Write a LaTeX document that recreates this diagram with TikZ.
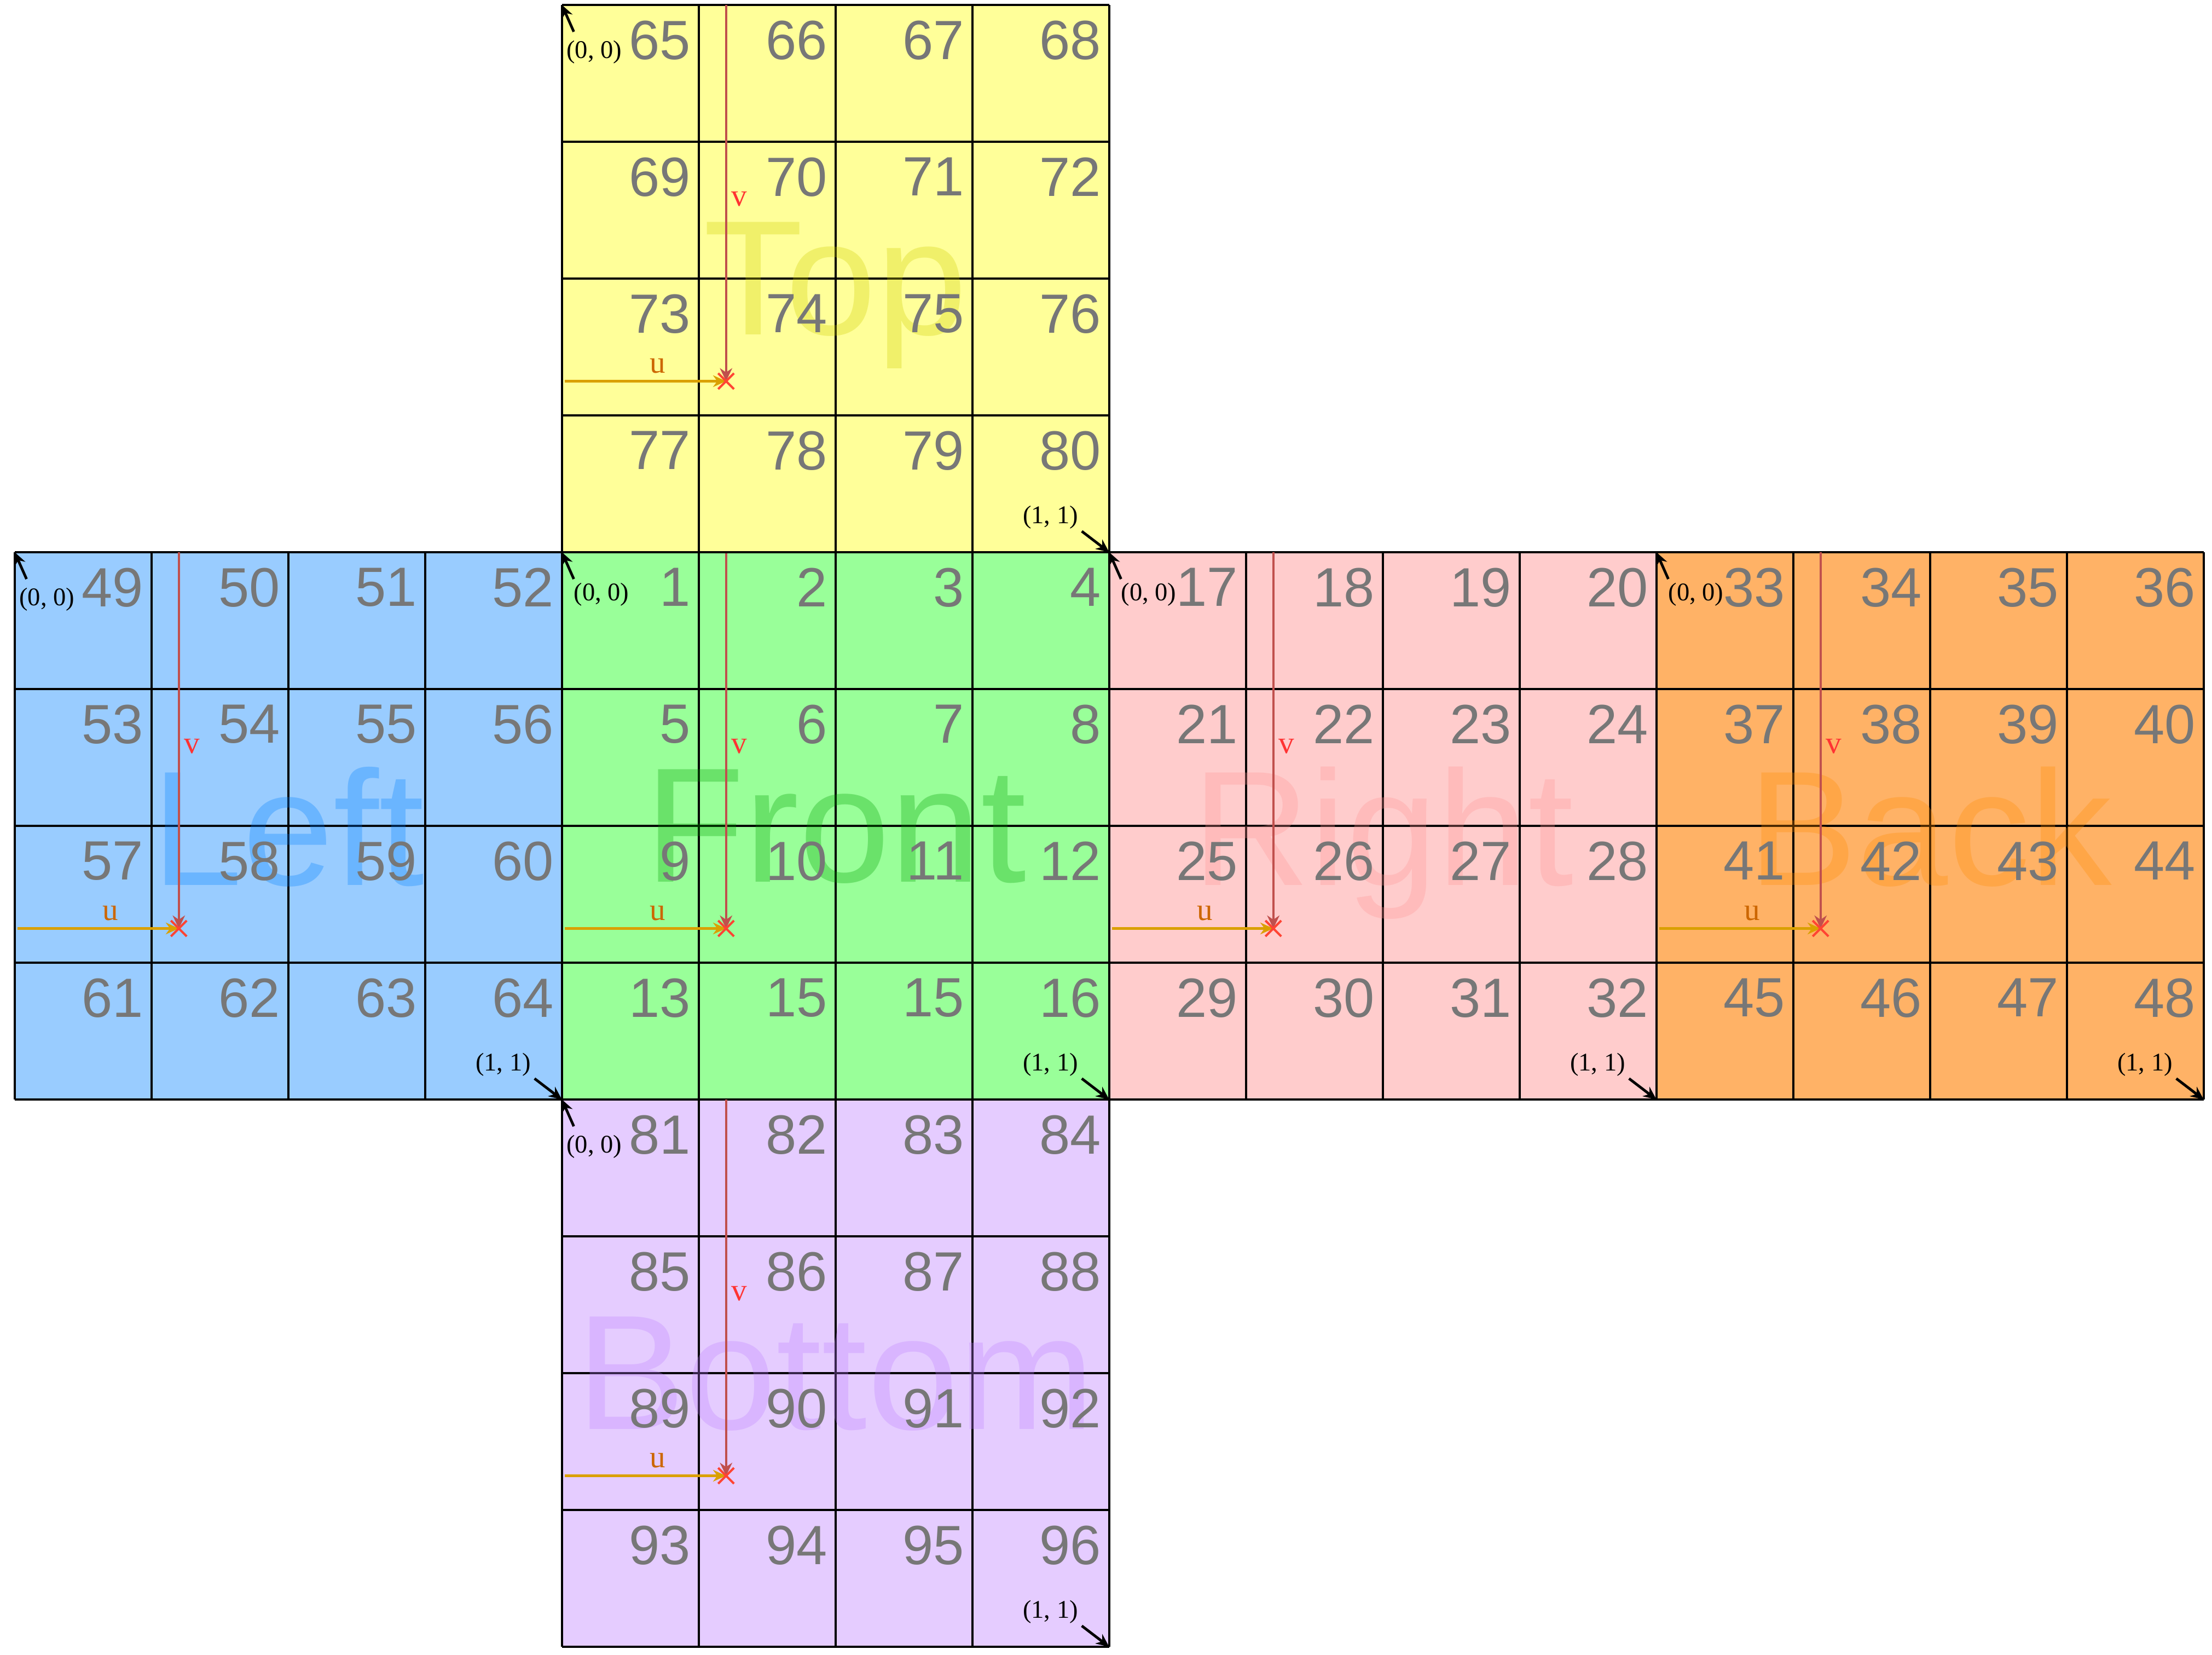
\documentclass[tikz,border=0pt]{standalone}
\usepackage{fontspec}
\setmainfont{Liberation Serif}
\setsansfont{Liberation Sans}
\usepackage{tikz}
\usetikzlibrary{arrows.meta, shapes.misc}

\definecolor{topfill}{HTML}{FFFF99}
\definecolor{leftfill}{HTML}{99CCFF}
\definecolor{frontfill}{HTML}{99FF99}
\definecolor{rightfill}{HTML}{FFCCCC}
\definecolor{backfill}{HTML}{FFB266}
\definecolor{bottomfill}{HTML}{E5CCFF}
\definecolor{toptext}{HTML}{D0D000}
\definecolor{lefttext}{HTML}{0080FF}
\definecolor{fronttext}{HTML}{00A000}
\definecolor{righttext}{HTML}{FF9696}
\definecolor{backtext}{HTML}{FF8C00}
\definecolor{bottomtext}{HTML}{BF80FF}
\definecolor{numgray}{HTML}{777777}
\definecolor{uline}{HTML}{DAA000}
\definecolor{utext}{HTML}{CC6600}
\definecolor{vline}{HTML}{C0504D}
\definecolor{vtext}{HTML}{FF3333}
\definecolor{xmark}{HTML}{FF4433}

\begin{document}
\begin{tikzpicture}[
    x=1cm, y=1cm,
    gridline/.style={black, line width=0.45pt},
    facename/.style={font=\fontsize{34}{34}\selectfont\sffamily, text depth=0pt, text opacity=0.3, inner sep=0pt},
    cellnum/.style={anchor=north east, inner sep=0pt, text=numgray, font=\fontsize{11.5}{11.5}\selectfont\sffamily},
    uvlabel/.style={inner sep=0pt, font=\fontsize{6.5}{6.5}\selectfont},
    uarrow/.style={uline, line width=0.55pt, -{Stealth[length=0.095cm, width=0.085cm]}},
    varrow/.style={vline, line width=0.45pt, -{Stealth[length=0.095cm, width=0.09cm]}},
    crossmark/.style={cross out, draw=xmark, line width=0.45pt, minimum size=0.1cm, inner sep=0pt},
    cornerlabel/.style={inner sep=0pt, font=\fontsize{5.3}{5.3}\selectfont},
    cornerarrow/.style={black, line width=0.55pt, -{Stealth[length=0.095cm, width=0.085cm]}}
]
\path[use as bounding box, fill=white] (-0.107,-0.06) rectangle (16.061,12.036);

% one pass per face of the unfolded cube
\foreach \fname/\fx/\fy/\fcol/\tcol/\ftext/\first/\ox/\oy in {
    front/4/4/frontfill/fronttext/Front/1/0.08/-0.31,
    right/8/4/rightfill/righttext/Right/17/0.08/-0.31,
    back/12/4/backfill/backtext/Back/33/0.08/-0.31,
    left/0/4/leftfill/lefttext/Left/49/0.027/-0.346,
    top/4/8/topfill/toptext/Top/65/0.027/-0.346,
    bottom/4/0/bottomfill/bottomtext/Bottom/81/0.027/-0.346}{
  \fill[\fcol] (\fx,\fy) rectangle (\fx+4,\fy+4);
  \draw[gridline] (\fx,\fy) grid (\fx+4,\fy+4);
  \node[facename, text=\tcol] (\fname-name) at (\fx+2,\fy+2) {\ftext};
  \foreach \k in {0,...,15}{
    \pgfmathtruncatemacro\n{\first+\k}
    \ifnum\n=14 \def\n{15}\fi
    \pgfmathtruncatemacro\c{mod(\k,4)}
    \pgfmathtruncatemacro\r{div(\k,4)}
    \node[cellnum] (\fname-n\k) at (\fx+\c+0.947,\fy+3.893-\r) {\n};
  }
  \coordinate (\fname-tl) at (\fx,\fy+4);
  \coordinate (\fname-br) at (\fx+4,\fy);
  \coordinate (\fname-uv) at (\fx+1.2,\fy+1.25);
  \coordinate (\fname-u0) at (\fx+0.02,\fy+1.25);
  \coordinate (\fname-v0) at (\fx+1.2,\fy+4);
  \draw[uarrow] (\fname-u0) -- node[uvlabel, pos=0.576, above=0.047cm, text=utext] (\fname-u) {u} (\fname-uv);
  \draw[varrow] (\fname-v0) -- node[uvlabel, pos=0.516, xshift=0.095cm, text=vtext] (\fname-v) {v} (\fname-uv);
  \node[crossmark] (\fname-x) at (\fname-uv) {};
  % corner coordinates
  \node[cornerlabel, anchor=west] (\fname-o) at ([shift={(\ox,\oy)}]\fname-tl) {(0, 0)};
  \coordinate (\fname-oa) at ([shift={(0.087,-0.196)}]\fname-tl);
  \draw[cornerarrow] (\fname-oa) -- (\fname-tl);
  \node[cornerlabel, anchor=east] (\fname-e) at ([shift={(-0.22,0.255)}]\fname-br) {(1, 1)};
  \coordinate (\fname-ea) at ([shift={(-0.2,0.153)}]\fname-br);
  \draw[cornerarrow] (\fname-ea) -- (\fname-br);
}
\end{tikzpicture}
\end{document}
